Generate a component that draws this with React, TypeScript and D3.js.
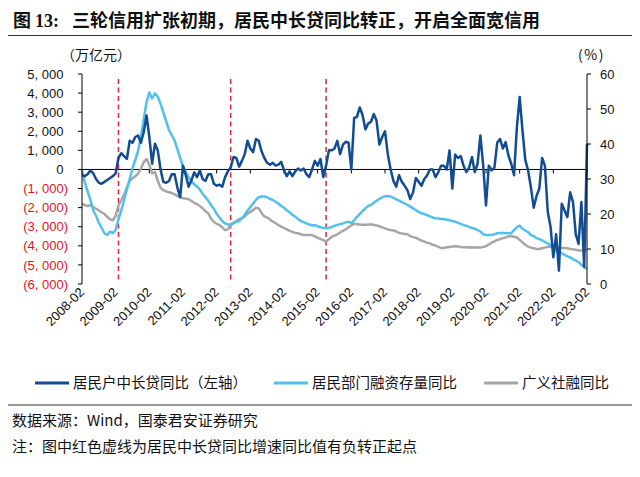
import React from "react";
import * as d3 from "d3";

const W = 640;
const H = 477;

// Monthly data, 2008-02 ... 2023-02 (181 months)
const startYear = 2008;
const startMonth = 2;
const monthCount = 181;

const xTickLabels = [
  "2008-02", "2009-02", "2010-02", "2011-02", "2012-02", "2013-02", "2014-02", "2015-02",
  "2016-02", "2017-02", "2018-02", "2019-02", "2020-02", "2021-02", "2022-02", "2023-02",
];

// 居民户中长贷同比（左轴）
const hhLoanYoY = [
  -300, -350, -250, -50, -200, -500, -700, -750, -650, -550, -450, -350,
  -200, 600, 850, 700, 550, 1500, 1400, 1700, 1780, 1400, 1950, 2830,
  1700, 300, 1350, 1000, 0, -650, -700, -600, -250, -250, -950, -1450,
  200, -300, -900, -580, -150, -400, -50, -500, -600, -250, -250, -750,
  -850, -800, -900, -400, -100, 100, 650, 600, 150, 450, 800, 1500,
  1100, 900, 1600, 1500, 950, 600, 350, 250, 350, 200, 250, 400,
  -50, -350, -100, -350, -100, 50, -50, 50, -250, -400, 0, 450,
  200, 550, -400, 200, 1000, 1000, 1100, 1500, 800, 1300, 1450, 1400,
  0, 2700, 2750, 3250, 2850, 2100, 2400, 2500, 2900, 2550, 1300, 1700,
  2000, 800, 0, -600, -900, -300, -650, -850, -1100, -1550, -1200, -450,
  -650, -850, -500, -320, 0, 0, -400, -150, 200, 200, 0, 1000,
  -1000, 780, 600, 700, 200, -140, 100, 650, -140, 300, 1780, 200,
  -1890, 200, -50, 100, 1400, 1600, 1100, 1430, 730, 300, -300, 2200,
  3800, 2050, 500, -50, -930, -2000, -1400, -1000, 600, 200, -2200, -3000,
  -4600, -3400, -5300, -1800, -2150, -2500, -1200, -1700, -3400, -3900, -1700, -5100,
  1350,
];

// 居民部门融资存量同比 (%)
const hhFinancingYoY = [
  32.5, 29, 26.5, 24, 21, 19.5, 17.5, 16, 14.5, 14, 15, 14.5,
  15.5, 18.5, 21, 24, 27, 30, 33, 35.5, 38, 42, 47, 52,
  54.7, 53, 54.5, 53.5, 51.5, 49, 46.5, 44, 42.5, 41, 38.5, 36,
  33.5, 32, 30.5, 29.3, 28.5, 27.8, 27, 25.8, 24.8, 23.8, 22.5, 21.5,
  20, 19, 18, 17.3, 17, 17, 17.5, 17.8, 18, 18.8, 19.8, 21,
  22, 23, 24, 24.8, 25, 25, 24.8, 24.3, 24, 23.5, 23, 22.3,
  21.8, 21, 20.5, 19.8, 19.2, 18.6, 18, 17.7, 17.3, 17, 16.8, 16.8,
  16.5, 16.2, 16, 16, 16, 16.3, 16.6, 16.9, 17.1, 17.3, 17.6, 17.8,
  17.4, 18.2, 19.2, 20, 20.8, 21.6, 22.3, 22.6, 23.2, 23.8, 24.3, 24.8,
  25.1, 25.1, 25, 24.6, 24.2, 23.8, 23.4, 23, 22.6, 22.1, 21.6, 21.1,
  20.6, 20.2, 20, 19.7, 19.3, 19, 18.8, 18.7, 18.6, 18.5, 18.4, 18.2,
  18, 17.8, 17.5, 17.2, 16.9, 16.6, 16.3, 16, 15.8, 15.4, 15, 14.2,
  14, 14, 14, 14.2, 14.5, 14.6, 14.6, 14.5, 14.5, 14.5, 15.4, 16.2,
  16.7, 15.8, 15.3, 14.8, 14, 13.7, 13.1, 12.8, 12.5, 12, 11.6, 11,
  10.2, 9.6, 9.2, 8.8, 8.3, 7.9, 7.6, 7.1, 6.7, 6.2, 5.5, 4.8,
  4.3,
];

// 广义社融同比 (%)
const tsfYoY = [
  23, 22.5, 22.3, 22.5, 22, 21.5, 21, 20.5, 20, 19.2, 18.5, 18.2,
  19.5, 22.5, 24, 25.5, 27.5, 29.5, 30.2, 30.8, 31.5, 33, 34.8, 35.7,
  34, 31.6, 32, 29.5, 27.5, 26.8, 26.5, 26.2, 26, 25.6, 25.2, 24.8,
  24.5, 24.4, 24.2, 23.7, 23.2, 22.8, 22.3, 21.6, 20.8, 20.2, 18.7, 17.7,
  17.2, 16.9, 16.2, 15.4, 15.6, 16.8, 17.3, 18, 18.5, 18.8, 19.3, 20.1,
  20.6, 21.1, 21.8, 21.6, 20.3, 19.3, 19, 18.4, 17.8, 17.4, 16.8, 16.4,
  16, 15.6, 15.2, 14.9, 14.6, 14.5, 14.2, 14, 14, 14, 14, 13.6,
  13.2, 12.9, 12.5, 12.2, 12.8, 13.5, 13.8, 14.2, 14.7, 15.2, 15.6, 16.2,
  16.7, 17.2, 17.1, 17, 16.9, 16.9, 17, 17, 16.9, 16.7, 16.5, 16.2,
  15.9, 15.6, 15.4, 15.3, 15, 14.6, 14.4, 14.3, 14.2, 13.7, 13.4, 13.2,
  12.8, 12.4, 12.1, 11.8, 11.6, 11.2, 11, 10.6, 10.3, 10.3, 10.5, 10.6,
  10.7, 10.8, 10.7, 10.6, 10.5, 10.5, 10.4, 10.5, 10.4, 10.4, 10.4, 10.6,
  10.8, 11.3, 11.8, 12.2, 12.6, 12.8, 13.1, 13.3, 13.6, 13.7, 13.5, 13.3,
  12.6, 11.9, 11.2, 10.7, 10.4, 10.2, 10, 10, 10.2, 10.4, 10.6, 10.7,
  10.6, 10.5, 10.4, 10.3, 10.3, 10.2, 10, 9.9, 9.8, 9.6, 9.6, 9.6,
  9.8,
];

// 红色虚线：居民中长贷同比由负转正起点
const turnPoints = ["2009-03", "2012-07", "2015-05"];

const leftTicks = [5000, 4000, 3000, 2000, 1000, 0, -1000, -2000, -3000, -4000, -5000, -6000];
const rightTicks = [60, 50, 40, 30, 20, 10, 0];

const seriesNames = ["居民户中长贷同比（左轴）", "居民部门融资存量同比", "广义社融同比"];
const colors = { dark: "#124C92", light: "#52C0EC", gray: "#A6A6A6", red: "#D3273E" };

const titleText = "三轮信用扩张初期，居民中长贷同比转正，开启全面宽信用";
const leftUnit = "（万亿元）";
const rightUnit = "(%)";
const sourceText = "数据来源：Wind，国泰君安证券研究";
const noteText = "注：图中红色虚线为居民中长贷同比增速同比值有负转正起点";

const CJK = "'Noto Sans CJK SC', 'Noto Sans', sans-serif";
const NUM = "'Liberation Sans', Arial, sans-serif";

function monthIndex(label: string): number {
  const [y, m] = label.split("-").map(Number);
  return (y - startYear) * 12 + (m - startMonth);
}

export default function App() {
  const plot = { left: 82, right: 587, top: 74, bottom: 284 };
  const x = d3.scaleLinear().domain([0, monthCount - 1]).range([plot.left, plot.right]);
  const yL = d3.scaleLinear().domain([-6000, 5000]).range([plot.bottom, plot.top]);
  const yR = d3.scaleLinear().domain([0, 60]).range([plot.bottom, plot.top]);

  const lineL = d3.line<number>().x((_, i) => x(i)).y((d) => yL(d));
  const lineR = d3.line<number>().x((_, i) => x(i)).y((d) => yR(d));

  const fmt = d3.format(",");
  const fmtLeft = (v: number) => {
    const s = fmt(Math.abs(v)).replace(/,/g, ", ");
    return v < 0 ? `(${s})` : s;
  };

  const zeroY = yL(0);

  return (
    <svg
      width={W}
      height={H}
      viewBox={`0 0 ${W} ${H}`}
      style={{ position: "absolute", left: 0, top: 0, background: "#fff" }}
    >
      <rect x={0} y={0} width={W} height={H} fill="#fff" />

      {/* title */}
      <text x={13} y={27} fontSize={18} fontWeight="bold" fill="#111">
        <tspan fontFamily={CJK}>图 </tspan>
        <tspan fontFamily="'Liberation Serif', serif">13:</tspan>
        <tspan x={72} fontFamily={CJK}>{titleText}</tspan>
      </text>
      <line x1={8} x2={632} y1={35.5} y2={35.5} stroke="#333" strokeWidth={1.2} />

      {/* units */}
      <text x={61} y={60} fontSize={14} fontFamily={CJK} fill="#111">{leftUnit}</text>
      <text x={578} y={60} fontSize={14} fontFamily={CJK} fill="#111" letterSpacing={1.5}>{rightUnit}</text>

      {/* red dashed lines */}
      {turnPoints.map((t) => (
        <line
          key={t}
          x1={x(monthIndex(t))}
          x2={x(monthIndex(t))}
          y1={79}
          y2={280}
          stroke={colors.red}
          strokeWidth={1.5}
          strokeDasharray="5,3.5"
        />
      ))}

      {/* zero line + x ticks */}
      <line x1={plot.left} x2={plot.right} y1={zeroY} y2={zeroY} stroke="#000" strokeWidth={1} />
      {xTickLabels.map((lab) => (
        <line
          key={"t" + lab}
          x1={x(monthIndex(lab))}
          x2={x(monthIndex(lab))}
          y1={zeroY}
          y2={zeroY + 4}
          stroke="#000"
          strokeWidth={1}
        />
      ))}

      {/* series */}
      <path d={lineR(tsfYoY) ?? ""} fill="none" stroke={colors.gray} strokeWidth={2.5} strokeLinejoin="round" />
      <path d={lineR(hhFinancingYoY) ?? ""} fill="none" stroke={colors.light} strokeWidth={2.5} strokeLinejoin="round" />
      <path d={lineL(hhLoanYoY) ?? ""} fill="none" stroke={colors.dark} strokeWidth={2.5} strokeLinejoin="round" />

      {/* left axis */}
      <line x1={plot.left} x2={plot.left} y1={plot.top} y2={plot.bottom} stroke="#000" strokeWidth={1} />
      {leftTicks.map((v) => (
        <g key={"l" + v}>
          <line x1={plot.left - 4} x2={plot.left} y1={yL(v)} y2={yL(v)} stroke="#000" />
          <text
            x={v < 0 ? 68 : 63.5}
            y={yL(v)}
            dy="0.36em"
            textAnchor="end"
            fontSize={13}
            fontFamily={NUM}
            fill={v < 0 ? "#E0141E" : "#111"}
          >
            {fmtLeft(v)}
          </text>
        </g>
      ))}

      {/* right axis */}
      <line x1={plot.right} x2={plot.right} y1={plot.top} y2={plot.bottom} stroke="#000" strokeWidth={1} />
      {rightTicks.map((v) => (
        <g key={"r" + v}>
          <line x1={plot.right} x2={plot.right + 4} y1={yR(v)} y2={yR(v)} stroke="#000" />
          <text x={600} y={yR(v)} dy="0.36em" fontSize={13} fontFamily={NUM} fill="#111">
            {v}
          </text>
        </g>
      ))}

      {/* x tick labels */}
      {xTickLabels.map((lab) => {
        const tx = x(monthIndex(lab)) + 3;
        const ty = 293;
        return (
          <text
            key={"x" + lab}
            transform={`translate(${tx},${ty}) rotate(-45)`}
            textAnchor="end"
            fontSize={13}
            fontFamily={NUM}
            fill="#111"
          >
            {lab}
          </text>
        );
      })}

      {/* legend */}
      {[
        { name: seriesNames[0], color: colors.dark, x0: 35 },
        { name: seriesNames[1], color: colors.light, x0: 274 },
        { name: seriesNames[2], color: colors.gray, x0: 484 },
      ].map((it) => (
        <g key={it.name}>
          <line x1={it.x0} x2={it.x0 + 34} y1={383} y2={383} stroke={it.color} strokeWidth={3} />
          <text x={it.x0 + 38} y={388} fontSize={14.5} fontFamily={CJK} fill="#111">
            {it.name}
          </text>
        </g>
      ))}

      <line x1={8} x2={632} y1={405} y2={405} stroke="#333" strokeWidth={1.2} />

      {/* footnotes */}
      <text x={12} y={426} fontSize={15} fontFamily={CJK} fill="#111">{sourceText}</text>
      <text x={12} y={452} fontSize={15} fontFamily={CJK} fill="#111">{noteText}</text>
    </svg>
  );
}
